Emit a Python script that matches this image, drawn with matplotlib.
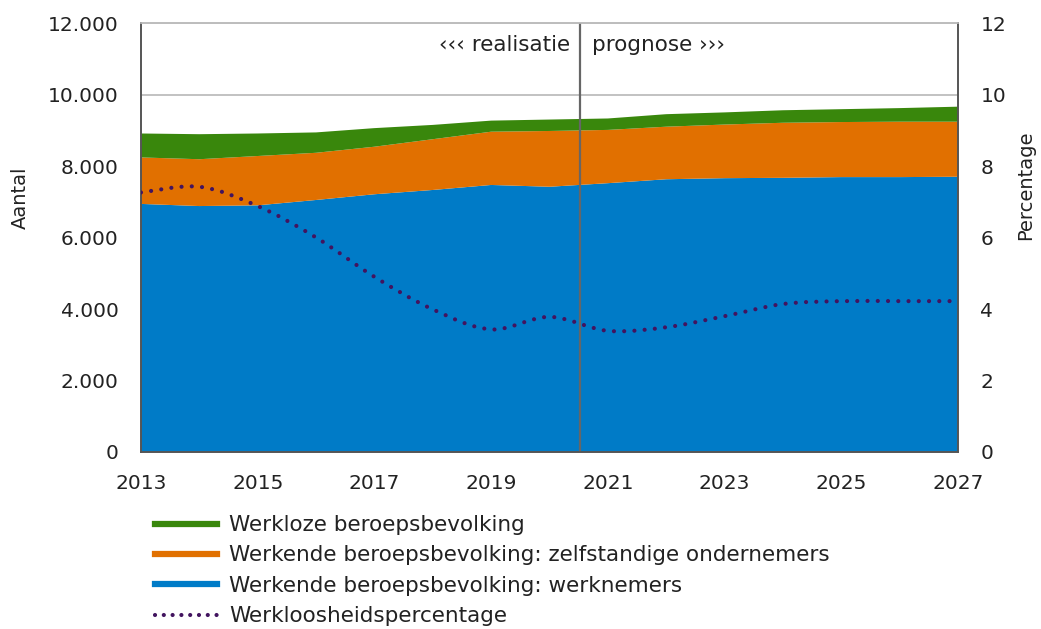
import numpy as np
import matplotlib
matplotlib.use('Agg')
import matplotlib.pyplot as plt
from matplotlib.path import Path
from matplotlib.patches import PathPatch
from matplotlib.lines import Line2D
from matplotlib.ticker import FuncFormatter

# data (x 1000)
jaren = [2013, 2014, 2015, 2016, 2017, 2018, 2019, 2020,
         2021, 2022, 2023, 2024, 2025, 2026, 2027]
werknemers = [6940, 6880, 6900, 7050, 7210, 7330, 7470, 7420,
              7520, 7630, 7660, 7670, 7690, 7690, 7700]
zelfstandigen = [1300, 1310, 1380, 1320, 1330, 1420, 1490, 1560,
                 1490, 1470, 1500, 1540, 1540, 1550, 1540]
werklozen = [670, 700, 630, 570, 520, 400, 310, 320,
             320, 350, 340, 350, 360, 380, 420]
werkloosheid = [7.26, 7.42, 6.88, 6.0, 4.9, 3.99, 3.43, 3.78,
                3.39, 3.49, 3.8, 4.14, 4.22, 4.22, 4.22]

labels = ['Werkloze beroepsbevolking',
          'Werkende beroepsbevolking: zelfstandige ondernemers',
          'Werkende beroepsbevolking: werknemers',
          'Werkloosheidspercentage']

blauw = '#007bc7'
oranje = '#e17000'
groen = '#39870c'
paars = '#42145f'
tekst = '#222222'

plt.rcParams['font.family'] = ['DejaVu Sans']

fig = plt.figure(figsize=(10.41, 6.29), dpi=100)
ax = fig.add_axes([0.1354, 0.2814, 0.7850, 0.6820])
ax2 = ax.twinx()

ax.stackplot(jaren, werknemers, zelfstandigen, werklozen,
             colors=[blauw, oranje, groen], linewidth=0, zorder=2)

ax.set_xlim(2013, 2027)
ax.set_ylim(0, 12000)
ax.set_xticks(range(2013, 2028, 2))
ax.set_yticks(range(0, 12001, 2000))
ax.yaxis.set_major_formatter(FuncFormatter(lambda v, p: f'{int(v):,}'.replace(',', '.')))
ax.grid(axis='y', color='#bdbdbd', linewidth=1.3, zorder=0)
ax.set_axisbelow(True)

ax2.set_ylim(0, 12)
ax2.set_yticks(range(0, 13, 2))

for a in (ax, ax2):
    a.tick_params(length=0, labelsize=14.5, colors=tekst, pad=16)
    for s in a.spines.values():
        s.set_color('#555555')
        s.set_linewidth(1.2)
    a.spines['top'].set_color('#bdbdbd')
ax.tick_params(axis='x', pad=16)

ax.set_ylabel('Aantal', fontsize=14, color=tekst, va='center')
ax.yaxis.set_label_coords(-0.148, 0.592)
ax2.set_ylabel('Percentage', fontsize=14, color=tekst, va='center')
ax2.yaxis.set_label_coords(1.082, 0.622)

# smoothed dotted line (bezier through the points)
x = np.array(jaren, dtype=float)
y = np.array(werkloosheid)
verts = [(x[0], y[0])]
codes = [Path.MOVETO]
for i in range(len(x) - 1):
    x0, y0 = x[max(i - 1, 0)], y[max(i - 1, 0)]
    x1, y1 = x[i], y[i]
    x2, y2 = x[i + 1], y[i + 1]
    x3, y3 = x[min(i + 2, len(x) - 1)], y[min(i + 2, len(x) - 1)]
    c1 = (x1 + (x2 - x0) / 6, y1 + (y2 - y0) / 6)
    c2 = (x2 - (x3 - x1) / 6, y2 - (y3 - y1) / 6)
    verts += [c1, c2, (x2, y2)]
    codes += [Path.CURVE4] * 3
lijn = PathPatch(Path(verts, codes), facecolor='none', edgecolor=paars,
                 linewidth=3, linestyle=(0, (0.01, 2.45)), capstyle='round', zorder=3)
ax2.add_patch(lijn)

# realisatie / prognose
ax.axvline(2020.52, color='#666666', linewidth=1.6, zorder=4)
ax.text(2020.35, 11385, '‹‹‹ realisatie', ha='right', va='center', fontsize=15.5, color=tekst)
ax.text(2020.72, 11385, 'prognose ›››', ha='left', va='center', fontsize=15.5, color=tekst)

handles = [Line2D([], [], color=groen, linewidth=4.5),
           Line2D([], [], color=oranje, linewidth=4.5),
           Line2D([], [], color=blauw, linewidth=4.5),
           Line2D([], [], color=paars, linewidth=3, linestyle=(0, (0.01, 2.1)),
                  dash_capstyle='round')]
fig.legend(handles, labels, loc='upper left', bbox_to_anchor=(0.149, 0.181),
           frameon=False, fontsize=15.5, handlelength=2.88, handletextpad=0.56,
           labelspacing=0.48, borderaxespad=0, borderpad=0, labelcolor=tekst)

fig.savefig('out.png', dpi=100)
